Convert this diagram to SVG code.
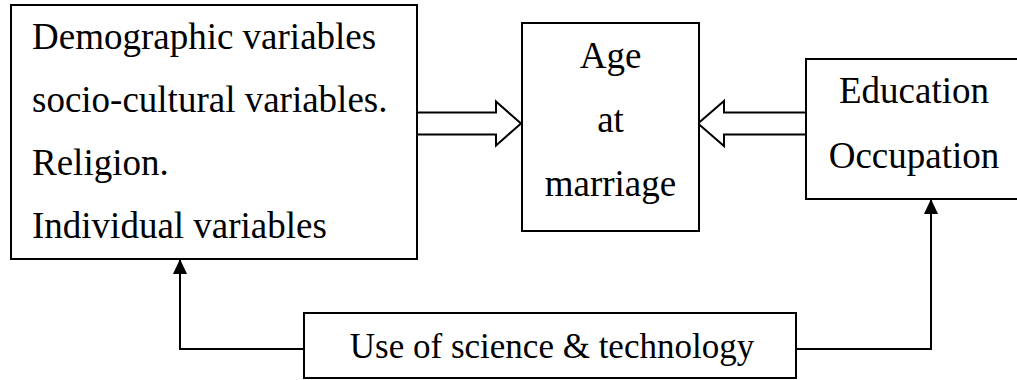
<svg xmlns="http://www.w3.org/2000/svg" width="1017" height="380" viewBox="0 0 1017 380">
<style>
.box{fill:#fff;stroke:#000;stroke-width:2}
.t{font-family:"Liberation Serif","Times New Roman",serif;font-size:37px;fill:#000}
.c{text-anchor:middle}
.ln{fill:none;stroke:#000;stroke-width:2}
.blk{fill:#fff;stroke:#000;stroke-width:2;stroke-linejoin:miter}
</style>
<defs>
<marker id="ah" markerWidth="15" markerHeight="16" refX="15" refY="7.5" orient="auto" markerUnits="userSpaceOnUse" viewBox="0 0 16 15">
<path d="M0,0 L16,7.5 L0,15 Z" fill="#000"/>
</marker>
</defs>
<rect width="1017" height="380" fill="#fff"/>
<g id="connectors">
<polygon class="blk" points="417,112.5 496,112.5 496,101.5 521,123.5 496,145.5 496,134.5 417,134.5"/>
<polygon class="blk" points="806,112.5 724,112.5 724,101 698,123.5 724,146 724,134.5 806,134.5"/>
<path class="ln" d="M304,349 H180 V260" marker-end="url(#ah)"/>
<path class="ln" d="M796,349 H931 V200" marker-end="url(#ah)"/>
</g>
<g id="factors">
<rect class="box" x="11" y="5" width="406" height="254"/>
<text class="t" x="32" y="49">Demographic variables</text>
<text class="t" x="32" y="112">socio-cultural variables.</text>
<text class="t" x="32" y="175">Religion.</text>
<text class="t" x="32" y="238">Individual variables</text>
</g>
<g id="age">
<rect class="box" x="522" y="23" width="177" height="208"/>
<text class="t c" x="610.5" y="68">Age</text>
<text class="t c" x="610.5" y="132">at</text>
<text class="t c" x="610.5" y="196">marriage</text>
</g>
<g id="education">
<rect class="box" x="806" y="59" width="216" height="140"/>
<text class="t c" x="914" y="103">Education</text>
<text class="t c" x="914" y="168">Occupation</text>
</g>
<g id="science">
<rect class="box" x="304" y="313" width="492" height="65"/>
<text class="t c" x="552" y="358" style="font-size:35px">Use of science &amp; technology</text>
</g>
</svg>
